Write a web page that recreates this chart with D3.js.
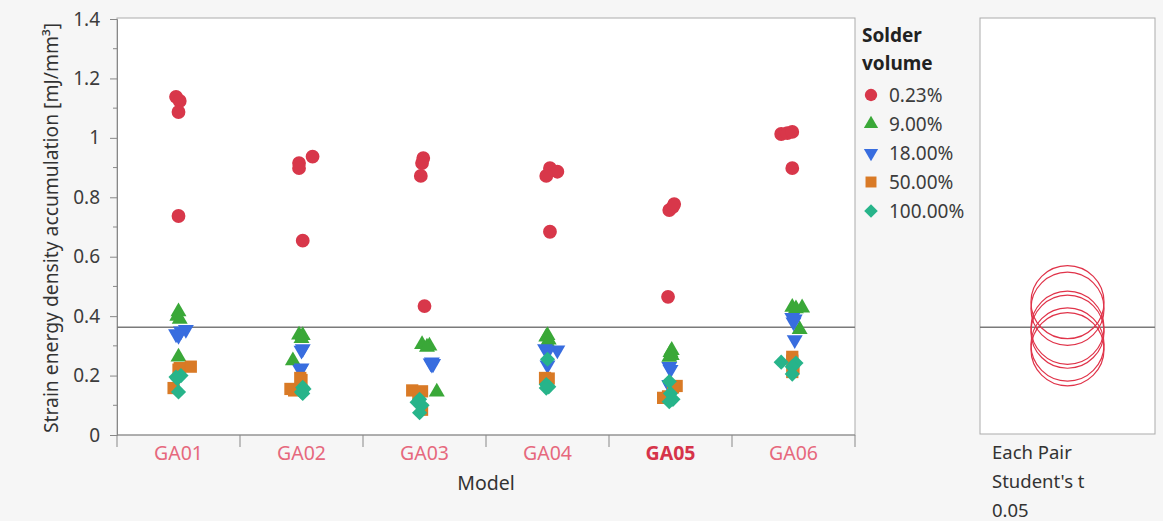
<!DOCTYPE html>
<html>
<head>
<meta charset="utf-8">
<script src="https://cdn.jsdelivr.net/npm/d3@7"></script>
<style>
  body { margin: 0; background: #f6f6f6; }
  svg { display: block; font-family: "Noto Sans", "Open Sans", sans-serif; }
</style>
</head>
<body>
<svg id="chart"></svg>
<script>
// models on the x axis
var models = ["GA01", "GA02", "GA03", "GA04", "GA05", "GA06"];
var volumes = ["0.23%", "9.00%", "18.00%", "50.00%", "100.00%"];
var yTicks = [0, 0.2, 0.4, 0.6, 0.8, 1, 1.2, 1.4];
var yMinor = [0.1, 0.3, 0.5, 0.7, 0.9, 1.1, 1.3];

// values per model (4 runs each)
var vol023 = [[1.138, 1.124, 1.087, 0.737], [0.915, 0.898, 0.937, 0.654], [0.932, 0.915, 0.872, 0.434],
              [0.898, 0.886, 0.872, 0.684], [0.757, 0.768, 0.777, 0.465], [1.013, 1.016, 1.02, 0.898]];
var vol9 = [[0.415, 0.40, 0.39, 0.263], [0.337, 0.335, 0.325, 0.25], [0.305, 0.30, 0.296, 0.145],
            [0.335, 0.33, 0.32, 0.31], [0.285, 0.278, 0.268, 0.262], [0.43, 0.428, 0.425, 0.355]];
var vol18 = [[0.355, 0.35, 0.34, 0.335], [0.29, 0.285, 0.225, 0.22], [0.245, 0.242, 0.24, 0.238],
             [0.29, 0.286, 0.28, 0.235], [0.23, 0.22, 0.17, 0.16], [0.395, 0.39, 0.38, 0.32]];
var vol50 = [[0.23, 0.225, 0.22, 0.158], [0.192, 0.185, 0.155, 0.15], [0.15, 0.147, 0.14, 0.085],
             [0.192, 0.19, 0.185, 0.182], [0.165, 0.16, 0.13, 0.125], [0.263, 0.25, 0.225, 0.212]];
var vol100 = [[0.2, 0.195, 0.19, 0.145], [0.16, 0.155, 0.145, 0.14], [0.12, 0.11, 0.1, 0.075],
              [0.255, 0.17, 0.162, 0.158], [0.18, 0.14, 0.12, 0.112], [0.245, 0.242, 0.23, 0.205]];

// horizontal jitter of each point, as a fraction of the model band
var jit023 = [[-.02, .01, 0, 0], [-.02, -.02, .09, .01], [-.01, -.02, -.03, 0],
              [.02, .08, -.01, .02], [-.01, .02, .03, -.02], [-.1, -.05, -.01, -.01]];
var jit9 = [[0, -.01, .01, 0], [-.02, .01, 0, -.07], [-.02, .04, .02, .1],
            [0, -.01, .01, 0], [.01, 0, .01, -.01], [-.01, .07, .02, .05]];
var jit18 = [[.06, .02, -.02, 0], [.01, 0, 0, -.01], [.06, .05, .07, .06],
             [-.02, .08, 0, 0], [-.01, 0, -.01, 0], [-.01, .01, 0, .01]];
var jit50 = [[.1, .01, 0, -.04], [-.01, 0, -.09, -.06], [-.1, -.02, -.05, -.02],
             [-.02, .01, -.01, 0], [.05, .02, -.02, -.06], [-.01, -.01, 0, -.01]];
var jit100 = [[.02, -.02, -.01, 0], [.01, .02, 0, .01], [-.04, -.06, -.02, -.04],
              [0, -.01, .01, -.01], [-.01, 0, .02, -.01], [-.1, .02, -.01, -.01]];

var seriesValues = [vol023, vol9, vol18, vol50, vol100];
var seriesJitter = [jit023, jit9, jit18, jit50, jit100];
var colors = ["#d8374a", "#3aa838", "#386ddf", "#d97a26", "#27b48a"];

var width = 1163, height = 521;
var svg = d3.select("#chart").attr("width", width).attr("height", height);

var x = d3.scaleBand().domain(models).range([117, 855]);
var y = d3.scaleLinear().domain([0, 1.4]).range([435, 19]);

// symbol shapes for each solder volume
function symbolPath(i, big) {
    var s = big ? 1 : 0.8;
    if (i == 0) return { d: d3.symbol(d3.symbolCircle, 150 * s)(), rot: 0 };
    if (i == 1) return { d: d3.symbol(d3.symbolTriangle, 110 * s)(), rot: 0 };
    if (i == 2) return { d: d3.symbol(d3.symbolTriangle, 110 * s)(), rot: 180 };
    if (i == 3) return { d: d3.symbol(d3.symbolSquare, 150 * s)(), rot: 0 };
    return { d: d3.symbol(d3.symbolSquare, 115 * s)(), rot: 45 };
}

// plot frame
svg.append("rect")
    .attr("x", 117).attr("y", 18)
    .attr("width", 855 - 117).attr("height", 435 - 18)
    .attr("fill", "#fff").attr("stroke", "#ababab");

// y axis
var yAxis = svg.append("g").attr("transform", "translate(117,0)")
    .call(d3.axisLeft(y).tickValues(yTicks).tickSize(7).tickPadding(10)
        .tickFormat(function(d) { return d3.format("~g")(d); }));
yAxis.select(".domain").attr("stroke", "#888");
yAxis.selectAll(".tick line").attr("stroke", "#888");
yAxis.selectAll("text").attr("font-size", 19).attr("fill", "#3c3c3c")
    .attr("font-family", "Noto Sans, sans-serif");
svg.append("g").selectAll("line")
    .data(yMinor)
    .enter()
    .append("line")
    .attr("x1", 113).attr("x2", 117)
    .attr("y1", function(d) { return y(d); })
    .attr("y2", function(d) { return y(d); })
    .attr("stroke", "#888");

svg.append("text")
    .attr("transform", "translate(58," + ((y(0) + y(1.4)) / 2 + 1) + ") rotate(-90)")
    .attr("text-anchor", "middle")
    .attr("font-size", 19.3)
    .attr("fill", "#333")
    .text("Strain energy density accumulation [mJ/mm³]");

// x axis: boundary ticks and model labels
svg.append("line").attr("x1", 117).attr("x2", 855).attr("y1", 435).attr("y2", 435).attr("stroke", "#888");
var edges = models.map(function(m) { return x(m); }).concat([x.range()[1]]);
svg.append("g").selectAll("line")
    .data(edges)
    .enter()
    .append("line")
    .attr("x1", function(d) { return d; })
    .attr("x2", function(d) { return d; })
    .attr("y1", 435).attr("y2", 447)
    .attr("stroke", "#888");
svg.append("g").selectAll("text")
    .data(models)
    .enter()
    .append("text")
    .attr("x", function(d) { return x(d) + x.bandwidth() / 2; })
    .attr("y", 460)
    .attr("text-anchor", "middle")
    .attr("font-size", 19.5)
    .attr("font-weight", function(d) { return d == "GA05" ? "bold" : "normal"; })
    .attr("fill", function(d) { return d == "GA05" ? "#d6344a" : "#e6687d"; })
    .text(function(d) { return d; });
svg.append("text")
    .attr("x", (117 + 855) / 2).attr("y", 490)
    .attr("text-anchor", "middle")
    .attr("font-size", 19.5).attr("fill", "#333")
    .text("Model");

// grand mean and model means
var all = [];
var modelMeans = models.map(function(m, mi) {
    var vals = [];
    seriesValues.forEach(function(s) { vals = vals.concat(s[mi]); });
    all = all.concat(vals);
    return d3.mean(vals);
});
var grandMean = d3.mean(all);

svg.append("line")
    .attr("x1", 117).attr("x2", 855)
    .attr("y1", y(grandMean)).attr("y2", y(grandMean))
    .attr("stroke", "#7a7a7a").attr("stroke-width", 1.5);

// points
var points = [];
seriesValues.forEach(function(s, si) {
    s.forEach(function(vals, mi) {
        vals.forEach(function(v, k) {
            points.push({ series: si, model: models[mi], value: v, jitter: seriesJitter[si][mi][k] });
        });
    });
});
svg.append("g").selectAll("path")
    .data(points)
    .enter()
    .append("path")
    .attr("d", function(d) { return symbolPath(d.series, true).d; })
    .attr("fill", function(d) { return colors[d.series]; })
    .attr("transform", function(d) {
        var cx = x(d.model) + x.bandwidth() * (0.5 + d.jitter);
        return "translate(" + cx + "," + y(d.value) + ") rotate(" + symbolPath(d.series, true).rot + ")";
    });

// legend
var legend = svg.append("g");
legend.append("text").attr("x", 862).attr("y", 42)
    .attr("font-size", 19).attr("font-weight", "bold").attr("fill", "#222").text("Solder");
legend.append("text").attr("x", 862).attr("y", 70)
    .attr("font-size", 19).attr("font-weight", "bold").attr("fill", "#222").text("volume");
var items = legend.selectAll(".item")
    .data(volumes)
    .enter()
    .append("g")
    .attr("transform", function(d, i) { return "translate(871," + (95 + i * 29) + ")"; });
items.append("path")
    .attr("d", function(d, i) { return symbolPath(i, false).d; })
    .attr("transform", function(d, i) { return "rotate(" + symbolPath(i, false).rot + ")"; })
    .attr("fill", function(d, i) { return colors[i]; });
items.append("text")
    .attr("x", 18).attr("y", 7)
    .attr("font-size", 19).attr("fill", "#3c3c3c")
    .text(function(d) { return d; });

// comparison circles panel
svg.append("rect")
    .attr("x", 980).attr("y", 18)
    .attr("width", 175).attr("height", 416)
    .attr("fill", "#fff").attr("stroke", "#ababab");
svg.append("line")
    .attr("x1", 980).attr("x2", 1155)
    .attr("y1", y(grandMean)).attr("y2", y(grandMean))
    .attr("stroke", "#7a7a7a").attr("stroke-width", 1.5);
var circleRadius = 0.123;
svg.append("g").selectAll("circle")
    .data(modelMeans)
    .enter()
    .append("circle")
    .attr("cx", 1067.5)
    .attr("cy", function(d) { return y(d); })
    .attr("r", y(0) - y(circleRadius))
    .attr("fill", "none")
    .attr("stroke", "#e0344a")
    .attr("stroke-width", 1.2);

var notes = ["Each Pair", "Student's t", "0.05"];
svg.append("g").selectAll("text")
    .data(notes)
    .enter()
    .append("text")
    .attr("x", 992)
    .attr("y", function(d, i) { return 459 + i * 29; })
    .attr("font-size", 18.5).attr("fill", "#333")
    .text(function(d) { return d; });
</script>
</body>
</html>
